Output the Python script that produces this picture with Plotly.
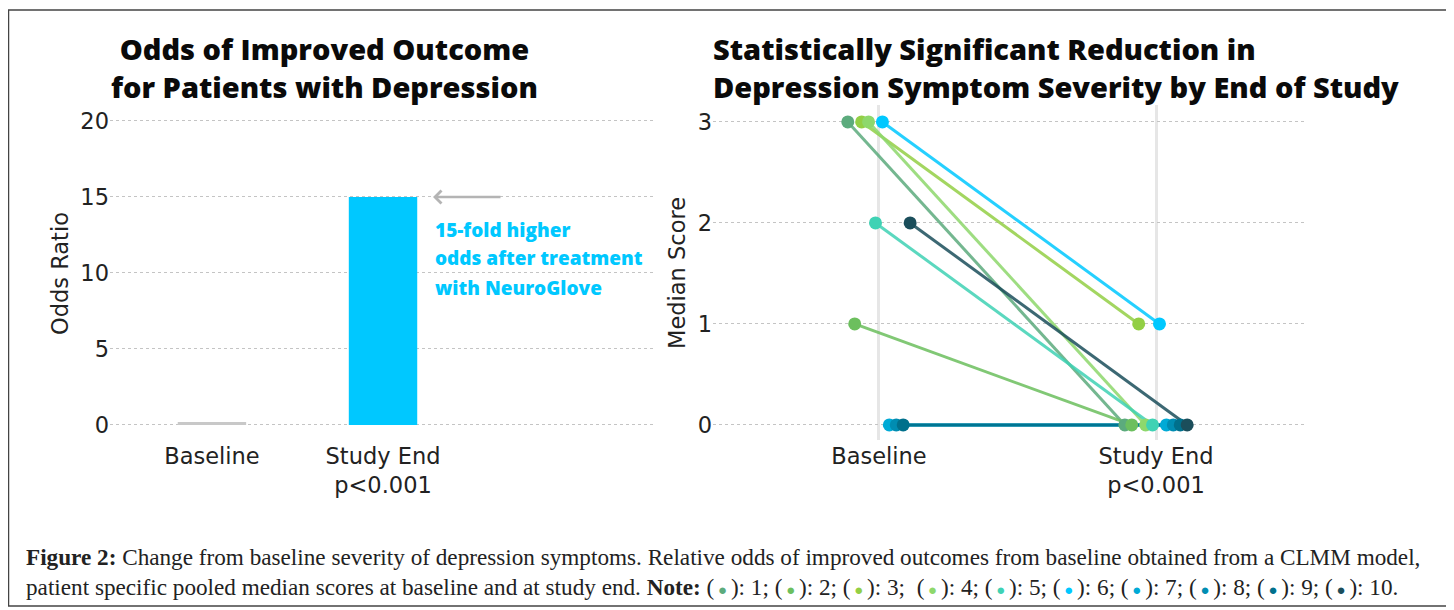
import plotly.graph_objects as go

# The page body has an 8px margin; the figure is sized and positioned to compensate.
OFF = 8
W, H = 1454 - OFF, 610 - OFF

# ---------------- data ----------------
# Left panel: odds ratio
or_categories = ["Baseline", "Study End<br>p&lt;0.001"]
odds_ratio = [0.2, 15]
or_colors = ["#c8c8c8", "#00c8ff"]
or_ticks = [0, 5, 10, 15, 20]

# Right panel: patient-specific pooled median scores
patients = [1, 2, 3, 4, 5, 6, 7, 8, 9, 10]
baseline_scores = [3, 1, 3, 3, 2, 3, 0, 0, 0, 2]
end_scores = [0, 0, 1, 0, 0, 1, 0, 0, 0, 0]
patient_jitter = [-0.1125, -0.0875, -0.0625, -0.0375, -0.0125, 0.0125, 0.0375, 0.0625, 0.0875, 0.1125]
patient_colors = ["#5cab7d", "#6cbf5e", "#93cf45", "#8ed86c", "#3fd2b4",
                  "#00c8ff", "#00aad6", "#008db2", "#00708c", "#1b4e5b"]
time_labels = ["Baseline", "Study End<br>p&lt;0.001"]
score_ticks = [0, 1, 2, 3]


def px_x(p):
    return (p - OFF) / W


def px_y(p):
    return 1 - (p - OFF) / H


TICK_FONT = dict(family="DejaVu Sans", size=22.5, color="#222222")
TITLE_FONT = dict(family="Open Sans", size=29, color="#0a0a0a", weight=800)

fig = go.Figure()

# ----- left bar chart -----
fig.add_trace(go.Bar(
    x=[0, 1], y=odds_ratio, marker=dict(color=or_colors, line=dict(width=0)),
    width=0.4, xaxis="x", yaxis="y", showlegend=False, hoverinfo="skip"))

# ----- right slope chart -----
for i, p in enumerate(patients):
    xs = [0 + patient_jitter[i], 1 + patient_jitter[i]]
    ys = [baseline_scores[i], end_scores[i]]
    fig.add_trace(go.Scatter(
        x=xs, y=ys, mode="lines", line=dict(color=patient_colors[i], width=3),
        opacity=0.85, xaxis="x2", yaxis="y2", showlegend=False, hoverinfo="skip"))
for i, p in enumerate(patients):
    xs = [0 + patient_jitter[i], 1 + patient_jitter[i]]
    ys = [baseline_scores[i], end_scores[i]]
    fig.add_trace(go.Scatter(
        x=xs, y=ys, mode="markers", marker=dict(color=patient_colors[i], size=13),
        xaxis="x2", yaxis="y2", showlegend=False, name=f"Patient {p}"))

ytop, ybot = 105, 440
grid = dict(showgrid=True, gridcolor="#c4c4c4", griddash="dot", gridwidth=1, zeroline=False)

fig.update_layout(
    width=W, height=H,
    margin=dict(l=0, r=0, t=0, b=0),
    paper_bgcolor="white", plot_bgcolor="white",
    xaxis=dict(domain=[px_x(110), px_x(655)], range=[-0.596, 2.59],
               tickvals=[0, 1], ticktext=or_categories, showgrid=False,
               zeroline=False, showline=False, ticks="", tickfont=TICK_FONT),
    yaxis=dict(domain=[px_y(ybot), px_y(ytop)], range=[-0.99, 21.05],
               tickvals=or_ticks, ticks="", showline=False, tickfont=TICK_FONT, **grid),
    xaxis2=dict(domain=[px_x(713), px_x(1307)], range=[-0.599, 1.545],
                tickvals=[0, 1], ticktext=time_labels, showgrid=True,
                gridcolor="#e6e6e6", gridwidth=3, zeroline=False, showline=False,
                ticks="", tickfont=TICK_FONT, anchor="y2"),
    yaxis2=dict(domain=[px_y(ybot), px_y(ytop)], range=[-0.149, 3.168],
                tickvals=score_ticks, ticks="", showline=False, tickfont=TICK_FONT,
                anchor="x2", **grid),
)

ann = []
# titles
ann.append(dict(text="Odds of Improved Outcome<br>for Patients with Depression",
                x=px_x(324), y=px_y(67), xref="paper", yref="paper",
                xanchor="center", yanchor="middle", align="center",
                showarrow=False, font=TITLE_FONT))
ann.append(dict(text="Statistically Significant Reduction in<br>Depression Symptom Severity by End of Study",
                x=px_x(711), y=px_y(67), xref="paper", yref="paper",
                xanchor="left", yanchor="middle", align="left",
                showarrow=False, font=TITLE_FONT))
# y-axis titles
ann.append(dict(text="Odds Ratio", x=px_x(60), y=px_y(273), xref="paper", yref="paper",
                textangle=-90, xanchor="center", yanchor="middle", showarrow=False,
                font=TICK_FONT))
ann.append(dict(text="Median Score", x=px_x(677), y=px_y(273), xref="paper", yref="paper",
                textangle=-90, xanchor="center", yanchor="middle", showarrow=False,
                font=TICK_FONT))
# arrow
ann.append(dict(text="", x=px_x(433), y=px_y(197), xref="paper", yref="paper",
                ax=69, ay=0, showarrow=True, arrowhead=4, arrowsize=1.0,
                arrowwidth=2.5, arrowcolor="#b4b4b4"))
# annotation text
note_font = dict(family="Open Sans", size=19, color="#00c8ff", weight=800)
for txt, yy in [("15-fold higher", 230), ("odds after treatment", 258), ("with NeuroGlove", 288)]:
    ann.append(dict(text=txt, x=px_x(433), y=px_y(yy), xref="paper", yref="paper",
                    xanchor="left", yanchor="middle", showarrow=False, font=note_font))

# caption
cap_font = dict(family="Liberation Serif", size=23.2, color="#222222")
line1 = ("<b>Figure 2:</b> Change from baseline severity of depression symptoms. Relative odds of "
         "improved outcomes from baseline obtained from a CLMM model,")
dots = []
for i, p in enumerate(patients):
    sep = "  " if p == 4 else " "
    dots.append(f"{sep}(<span style='color:{patient_colors[i]};font-size:15px'> ● </span>): {p}")
line2 = ("patient specific pooled median scores at baseline and at study end. <b>Note:</b>"
         + ";".join(dots) + ".")
ann.append(dict(text=line1, x=px_x(24), y=px_y(557), xref="paper", yref="paper",
                xanchor="left", yanchor="middle", showarrow=False, font=cap_font))
ann.append(dict(text=line2, x=px_x(24), y=px_y(587), xref="paper", yref="paper",
                xanchor="left", yanchor="middle", showarrow=False, font=cap_font))

fig.update_layout(annotations=ann)

# frame around the figure
fig.add_shape(type="rect", xref="paper", yref="paper",
              x0=px_x(8.5), x1=px_x(1447), y0=px_y(606), y1=px_y(10),
              line=dict(color="#444444", width=1.5), fillcolor="rgba(0,0,0,0)")

fig.write_html("out.html")
